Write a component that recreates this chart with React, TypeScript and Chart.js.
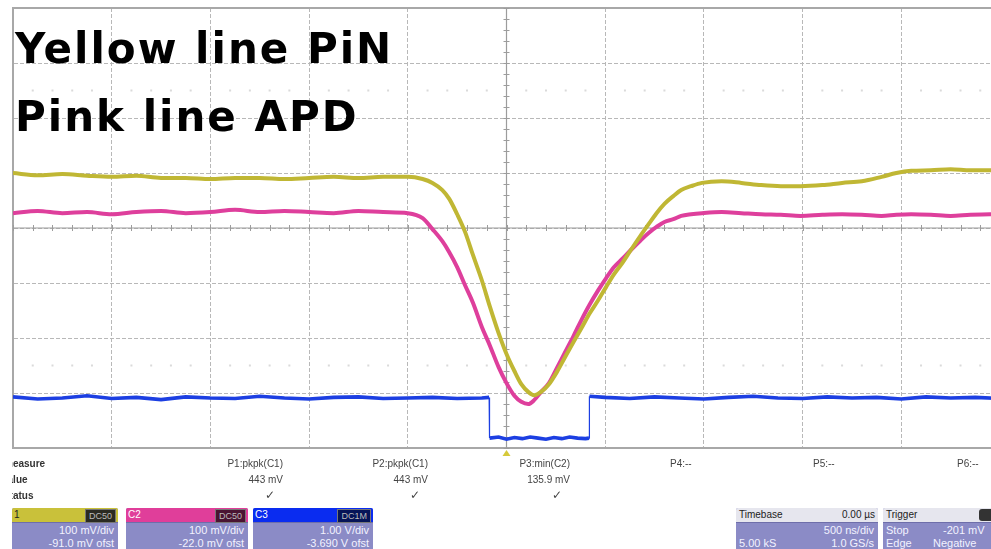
import React, { useEffect, useRef } from "react";
import { Chart, registerables } from "chart.js";

Chart.register(...registerables);

// Sweep time in ns (500 ns/div, trigger at 0) for C1 and C2
const traceTime = [
  -2500, -2375, -2250, -2125, -2000, -1875, -1750, -1625, -1500, -1375, -1250, -1125, -1000, -875, -750, -625, -500, -425,
  -375, -325, -290, -250, -210, -170, -125, -85, -40, 0, 40, 75, 110, 140, 175, 215, 255, 295, 340, 380, 420, 465, 505, 545,
  590, 630, 675, 720, 760, 800, 845, 885, 935, 990,
  1090, 1190, 1290, 1390, 1490, 1600, 1700, 1800, 1900, 1975, 2050, 2150, 2250, 2350, 2450, 2500,
];

// C1 (yellow, PiN) in screen divisions
const pinLevel = [
  1.0, 0.96, 0.98, 0.95, 0.93, 0.95, 0.91, 0.91, 0.89, 0.91, 0.91, 0.89, 0.91, 0.93, 0.91, 0.93, 0.93, 0.89,
  0.82, 0.69, 0.53, 0.25, -0.07, -0.49, -0.95, -1.42, -1.91, -2.29, -2.6, -2.84, -2.98, -3.04, -2.98, -2.84, -2.62, -2.36,
  -2.07, -1.82, -1.56, -1.31, -1.07, -0.84, -0.62, -0.4, -0.16, 0.07, 0.27, 0.44, 0.58, 0.69, 0.76, 0.82,
  0.85, 0.82, 0.78, 0.76, 0.76, 0.78, 0.82, 0.85, 0.93, 1.0, 1.04, 1.05, 1.07, 1.05, 1.05, 1.05,
];

// C2 (pink, APD) in screen divisions
const apdLevel = [
  0.27, 0.31, 0.27, 0.29, 0.25, 0.29, 0.31, 0.27, 0.29, 0.33, 0.29, 0.31, 0.29, 0.27, 0.31, 0.29, 0.27, 0.18,
  -0.02, -0.24, -0.44, -0.71, -1.04, -1.36, -1.8, -2.13, -2.53, -2.82, -3.05, -3.16, -3.2, -3.13, -2.98, -2.82, -2.55, -2.27,
  -1.96, -1.67, -1.4, -1.13, -0.91, -0.71, -0.55, -0.4, -0.24, -0.09, 0.02, 0.11, 0.16, 0.22, 0.25, 0.27,
  0.29, 0.27, 0.25, 0.24, 0.22, 0.24, 0.25, 0.24, 0.22, 0.24, 0.25, 0.24, 0.22, 0.24, 0.25, 0.24,
];

// C3 (blue, gate pulse)
const gateTime = [
  -2500, -2375, -2250, -2125, -2000, -1875, -1750, -1625, -1500, -1375, -1250, -1125, -1000, -875, -750, -625, -500, -375, -250, -125, -88,
  -86, -40, 0, 40, 80, 120, 160, 200, 240, 280, 320, 360, 400, 418,
  420, 500, 625, 750, 875, 1000, 1125, 1250, 1375, 1500, 1625, 1750, 1875, 2000, 2125, 2250, 2375, 2500,
];
const gateLevel = [
  -3.07, -3.11, -3.09, -3.05, -3.1, -3.08, -3.12, -3.07, -3.09, -3.1, -3.06, -3.09, -3.11, -3.08, -3.07, -3.1, -3.09, -3.08, -3.1, -3.09, -3.08,
  -3.82, -3.8, -3.84, -3.81, -3.83, -3.8, -3.82, -3.84, -3.81, -3.83, -3.8, -3.82, -3.83, -3.82,
  -3.06, -3.08, -3.1, -3.07, -3.09, -3.11, -3.08, -3.06, -3.09, -3.1, -3.07, -3.09, -3.08, -3.11, -3.07, -3.09, -3.08, -3.1,
];

const legendLines = ["Yellow line PiN", "Pink line APD"];

const measureLabels = ["measure", "value", "status"];
const measureNames = ["P1:pkpk(C1)", "P2:pkpk(C1)", "P3:min(C2)"];
const measureValues = ["443 mV", "443 mV", "135.9 mV"];
const emptyMeasures = ["P4:--", "P5:--", "P6:--"];

const channelNames = ["1", "C2", "C3"];
const channelScales = ["100 mV/div", "100 mV/div", "1.00 V/div"];
const channelOffsets = ["-91.0 mV ofst", "-22.0 mV ofst", "-3.690 V ofst"];
const channelCoupling = ["DC50", "DC50", "DC1M"];

const COLORS = {
  c1: "#c0b734",
  c2: "#de3f9c",
  c3: "#1c3fe2",
  grid: "#b8b8b8",
  frame: "#a8a8a8",
};

const toPoints = (xs: number[], ys: number[]) => xs.map((x, i) => ({ x, y: ys[i] }));

const graticule = {
  id: "graticule",
  beforeDatasetsDraw(chart: any) {
    const { ctx, chartArea, scales } = chart;
    const xs = scales.x;
    const ys = scales.y;
    const x0 = xs.getPixelForValue(0);
    const y0 = ys.getPixelForValue(0);
    ctx.save();
    // frame top edge
    ctx.strokeStyle = COLORS.frame;
    ctx.lineWidth = 2;
    ctx.beginPath();
    ctx.moveTo(chartArea.left, chartArea.top);
    ctx.lineTo(chartArea.right, chartArea.top);
    ctx.stroke();
    // centre axes with minor ticks
    ctx.strokeStyle = "#9c9c9c";
    ctx.lineWidth = 1.2;
    ctx.beginPath();
    ctx.moveTo(chartArea.left, y0);
    ctx.lineTo(chartArea.right, y0);
    ctx.moveTo(x0, chartArea.top);
    ctx.lineTo(x0, chartArea.bottom);
    ctx.stroke();
    ctx.lineWidth = 1;
    ctx.beginPath();
    for (let t = -2500; t <= 2500; t += 100) {
      const px = Math.round(xs.getPixelForValue(t)) + 0.5;
      ctx.moveTo(px, y0 - 3);
      ctx.lineTo(px, y0 + 3);
    }
    for (let k = -20; k <= 20; k++) {
      const py = Math.round(ys.getPixelForValue(k / 5)) + 0.5;
      ctx.moveTo(x0 - 3, py);
      ctx.lineTo(x0 + 3, py);
    }
    ctx.stroke();
    // faint dotted rows
    ctx.fillStyle = "#dadada";
    for (const lvl of [2.5, -2.5]) {
      const py = ys.getPixelForValue(lvl);
      for (let t = -2400; t < 2500; t += 100) {
        if (t % 500 === 0) continue;
        ctx.fillRect(xs.getPixelForValue(t) - 1, py - 1, 2, 2);
      }
    }
    ctx.restore();
  },
  afterDraw(chart: any) {
    const { ctx, chartArea, scales } = chart;
    const x0 = scales.x.getPixelForValue(0);
    const b = chartArea.bottom;
    ctx.save();
    ctx.fillStyle = "#d6c93a";
    ctx.beginPath();
    ctx.moveTo(x0 - 4, b + 8);
    ctx.lineTo(x0 + 4, b + 8);
    ctx.lineTo(x0, b + 2);
    ctx.closePath();
    ctx.fill();
    ctx.restore();
  },
};

function Scope() {
  const ref = useRef<HTMLCanvasElement | null>(null);
  useEffect(() => {
    if (!ref.current) return;
    const jump = (c: any) => (Math.abs(c.p1.parsed.y - c.p0.parsed.y) > 0.5 ? 1.2 : undefined);
    const chart = new Chart(ref.current, {
      type: "line",
      data: {
        datasets: [
          {
            label: "C3",
            data: toPoints(gateTime, gateLevel),
            borderColor: COLORS.c3,
            borderWidth: 3.6,
            pointRadius: 0,
            segment: { borderWidth: jump },
          },
          {
            label: "C1",
            data: toPoints(traceTime, pinLevel),
            borderColor: COLORS.c1,
            borderWidth: 4,
            pointRadius: 0,
            cubicInterpolationMode: "monotone",
          },
          {
            label: "C2",
            data: toPoints(traceTime, apdLevel),
            borderColor: COLORS.c2,
            borderWidth: 4,
            pointRadius: 0,
            cubicInterpolationMode: "monotone",
          },
        ],
      },
      options: {
        animation: false,
        responsive: false,
        maintainAspectRatio: false,
        layout: { padding: { left: 13, top: 8, right: 12, bottom: 12 } },
        plugins: { legend: { display: false }, tooltip: { enabled: false }, title: { display: false } },
        scales: {
          x: {
            type: "linear",
            min: -2500,
            max: 2500,
            ticks: { display: false, stepSize: 500 },
            grid: { color: COLORS.grid, drawTicks: false, lineWidth: 1 },
            border: { display: true, color: COLORS.frame, width: 2, dash: [4, 2] },
          },
          y: {
            type: "linear",
            min: -4,
            max: 4,
            ticks: { display: false, stepSize: 1 },
            grid: { color: COLORS.grid, drawTicks: false, lineWidth: 1 },
            border: { display: true, color: COLORS.frame, width: 2, dash: [4, 2] },
          },
        },
      },
      plugins: [graticule],
    });
    return () => chart.destroy();
  }, []);
  return (
    <canvas
      ref={ref}
      width={1012}
      height={460}
      style={{ position: "absolute", left: 0, top: 0, width: 1012, height: 460 }}
    />
  );
}

const small: React.CSSProperties = {
  position: "absolute",
  fontFamily: '"Liberation Sans", Arial, sans-serif',
  fontSize: 10,
  color: "#444",
  whiteSpace: "nowrap",
  lineHeight: "12px",
};

function ChannelBox(props: { left: number; width: number; color: string; tagBg: string; nameColor: string; i: number }) {
  const { left, width, color, tagBg, nameColor, i } = props;
  return (
    <div style={{ position: "absolute", left, top: 508, width, height: 46, background: "#8b8bc6", borderRadius: 2, overflow: "hidden" }}>
      <div style={{ height: 14, background: color, position: "relative", borderBottom: "1px solid #6e6eaa" }}>
        <span style={{ ...small, left: 2, top: 1, color: nameColor }}>{channelNames[i]}</span>
        <span style={{ ...small, right: 2, top: 1, height: 12, padding: "0 3px", background: tagBg, color: "#bbb", fontSize: 9, border: "1px solid #777" }}>
          {channelCoupling[i]}
        </span>
      </div>
      <div style={{ ...small, right: 4, top: 16, color: "#f2f2ff", fontSize: 11 }}>{channelScales[i]}</div>
      <div style={{ ...small, right: 4, top: 29, color: "#f2f2ff", fontSize: 11 }}>{channelOffsets[i]}</div>
    </div>
  );
}

export default function App() {
  const colRight = [283, 428, 570];
  const emptyLeft = [670, 813, 957];
  return (
    <div style={{ position: "fixed", left: 0, top: 0, width: 991, height: 549, overflow: "hidden", background: "#fff" }}>
      <Scope />
      {legendLines.map((t, i) => (
        <div
          key={t}
          style={{
            position: "absolute",
            left: 15,
            top: 24 + i * 68,
            fontFamily: '"DejaVu Sans", sans-serif',
            fontWeight: 700,
            fontSize: 42,
            lineHeight: "50px",
            letterSpacing: 2,
            color: "#000",
            whiteSpace: "nowrap",
          }}
        >
          {t}
        </div>
      ))}
      <div style={{ position: "absolute", left: 12, top: 458, width: 80, height: 48, overflow: "hidden" }}>
        {measureLabels.map((t, i) => (
          <div key={t} style={{ ...small, left: i === 0 ? -8 : i === 1 ? -10 : -8, top: i * 16, fontWeight: 700, color: "#333" }}>
            {t}
          </div>
        ))}
      </div>
      {measureNames.map((t, i) => (
        <React.Fragment key={t}>
          <div style={{ ...small, left: colRight[i] - 120, width: 120, textAlign: "right", top: 458 }}>{t}</div>
          <div style={{ ...small, left: colRight[i] - 120, width: 120, textAlign: "right", top: 474 }}>{measureValues[i]}</div>
          <div style={{ ...small, left: colRight[i] - 120, width: 112, textAlign: "right", top: 489, fontSize: 12, fontFamily: '"DejaVu Sans"' }}>✓</div>
        </React.Fragment>
      ))}
      {emptyMeasures.map((t, i) => (
        <div key={t} style={{ ...small, left: emptyLeft[i], top: 458 }}>{t}</div>
      ))}
      <ChannelBox left={12} width={106} color="#c9c13a" tagBg="#2b2b22" nameColor="#222" i={0} />
      <ChannelBox left={126} width={122} color="#e03e9a" tagBg="#4a1432" nameColor="#fff" i={1} />
      <ChannelBox left={253} width={120} color="#0a2cf0" tagBg="#061458" nameColor="#fff" i={2} />
      <div style={{ position: "absolute", left: 736, top: 508, width: 142, height: 46, background: "#8b8bc6", borderRadius: 2, overflow: "hidden" }}>
        <div style={{ height: 14, background: "#e6e6ee", position: "relative", borderBottom: "1px solid #6e6eaa" }}>
          <span style={{ ...small, left: 3, top: 1, color: "#222" }}>Timebase</span>
          <span style={{ ...small, right: 3, top: 1, color: "#222" }}>0.00 µs</span>
        </div>
        <div style={{ ...small, right: 4, top: 16, color: "#f2f2ff", fontSize: 11 }}>500 ns/div</div>
        <div style={{ ...small, left: 3, top: 29, color: "#f2f2ff", fontSize: 11 }}>5.00 kS</div>
        <div style={{ ...small, right: 4, top: 29, color: "#f2f2ff", fontSize: 11 }}>1.0 GS/s</div>
      </div>
      <div style={{ position: "absolute", left: 883, top: 508, width: 130, height: 46, background: "#8b8bc6", borderRadius: 2, overflow: "hidden" }}>
        <div style={{ height: 14, background: "#e6e6ee", position: "relative", borderBottom: "1px solid #6e6eaa" }}>
          <span style={{ ...small, left: 3, top: 1, color: "#222" }}>Trigger</span>
          <span style={{ ...small, left: 96, top: 1, height: 12, width: 30, background: "#333", borderRadius: 3 }} />
        </div>
        <div style={{ ...small, left: 3, top: 16, color: "#f2f2ff", fontSize: 11 }}>Stop</div>
        <div style={{ ...small, left: 60, top: 16, color: "#f2f2ff", fontSize: 11 }}>-201 mV</div>
        <div style={{ ...small, left: 3, top: 29, color: "#f2f2ff", fontSize: 11 }}>Edge</div>
        <div style={{ ...small, left: 50, top: 29, color: "#f2f2ff", fontSize: 11 }}>Negative</div>
      </div>
    </div>
  );
}
